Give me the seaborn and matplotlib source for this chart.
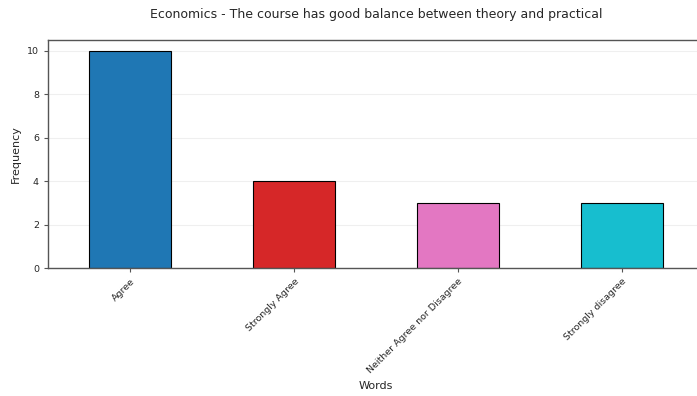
import matplotlib
matplotlib.use('Agg')
import matplotlib.pyplot as plt
import pandas as pd
import seaborn as sns

# Response counts
words = ['Agree', 'Strongly Agree', 'Neither Agree nor Disagree', 'Strongly disagree']
counts = [10, 4, 3, 3]
colors = ['tab:blue', 'tab:red', 'tab:pink', 'tab:cyan']

df = pd.DataFrame({'Words': words, 'Frequency': counts})

sns.set_style('white')
plt.rcParams['font.family'] = ['DejaVu Sans']

fig = plt.figure(figsize=(6.97, 3.96), dpi=100)
ax = fig.add_axes([48 / 697, 128 / 396, 656 / 697, 228 / 396])

sns.barplot(data=df, x='Words', y='Frequency', hue='Words', palette=colors,
            width=0.5, edgecolor='black', linewidth=0.8, saturation=1,
            legend=False, ax=ax, zorder=2)

ax.set_xlim(-0.5, 3.5)
ax.set_ylim(0, 10.5)
ax.set_yticks([0, 2, 4, 6, 8, 10])
ax.grid(axis='y', alpha=0.3, zorder=0)
ax.set_axisbelow(True)
for s in ax.spines.values():
    s.set_color('#555555')
    s.set_linewidth(1)
ax.tick_params(axis='both', labelsize=6.8, length=3, color='#555555', direction='out')
ax.tick_params(left=True, bottom=True)
plt.setp(ax.get_xticklabels(), rotation=45, ha='right', rotation_mode='anchor')
ax.set_xlabel('Words', fontsize=8)
ax.set_ylabel('Frequency', fontsize=8)
ax.yaxis.set_label_coords(-0.042, 0.5)
ax.set_title('Economics - The course has good balance between theory and practical',
             fontsize=9, pad=16)

fig.savefig('out.png', dpi=100)
